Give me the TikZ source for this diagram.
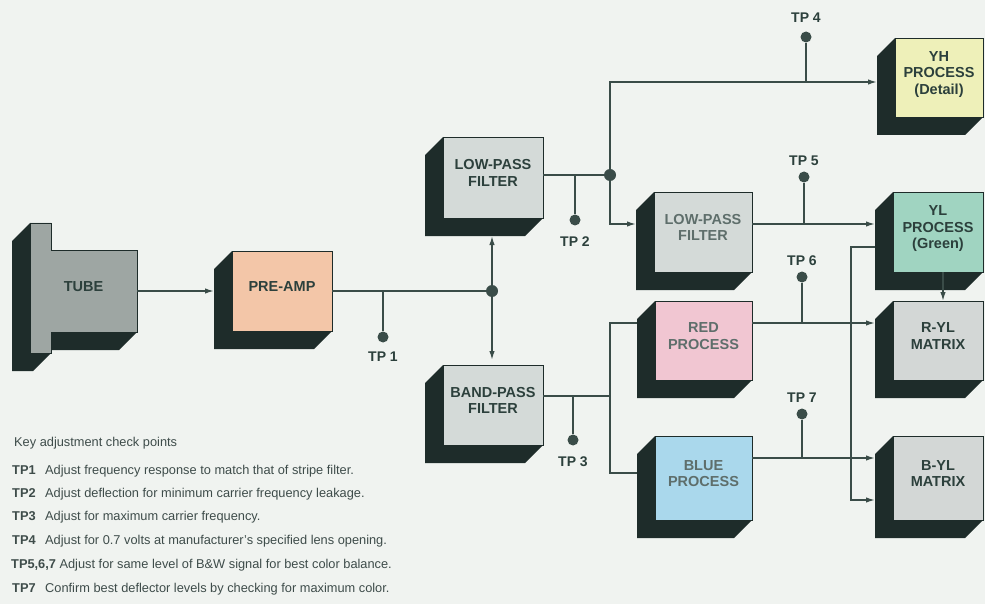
\documentclass[tikz,border=0pt]{standalone}
\usepackage{fontspec}
\setmainfont{Liberation Sans}
\usetikzlibrary{arrows.meta,calc}
\definecolor{bgc}{HTML}{F0F3F0}
\definecolor{shc}{HTML}{1E2C2A}
\definecolor{linec}{HTML}{3A4C48}
\definecolor{txtc}{HTML}{2C403C}
\definecolor{txtl}{HTML}{5E6E6B}
\definecolor{legc}{HTML}{3E4C4A}
\definecolor{tubec}{HTML}{9EA6A3}
\definecolor{preampc}{HTML}{F3C6A8}
\definecolor{filterc}{HTML}{D4DAD8}
\definecolor{yhc}{HTML}{EEF0B9}
\definecolor{ylc}{HTML}{A0D4C1}
\definecolor{redc}{HTML}{F1C6D2}
\definecolor{bluec}{HTML}{AAD8EC}
\definecolor{matc}{HTML}{D3D7D6}
\pgfdeclarelayer{bg}\pgfdeclarelayer{sh}\pgfsetlayers{bg,sh,main}
\newcommand\boxshadow[1]{\begin{pgfonlayer}{sh}\fill[shc] (#1.north west) -- ($(#1.north west)+(-18,18)$) -- ($(#1.south west)+(-18,18)$) -- ($(#1.south east)+(-18,18)$) -- (#1.south east) -- cycle;\end{pgfonlayer}}
\tikzset{
  face/.style={draw=shc, line width=0.8pt, inner sep=0pt, outer sep=0pt, align=center, text=txtc,
    font=\fontsize{14.5}{16.5}\selectfont\bfseries, text depth=9pt},
  conn/.style={draw=linec, line width=1.5pt},
  arr/.style={-{Latex[length=9pt,width=5.5pt]}},
  jdot/.style={circle, fill=linec, inner sep=0pt, minimum size=12pt},
  tpdot/.style={circle, fill=linec, inner sep=0pt, minimum size=11pt},
  tplab/.style={text=txtc, font=\fontsize{14}{16}\selectfont\bfseries, inner sep=0pt},
  leg/.style={anchor=base west, inner sep=0pt, text=legc, font=\fontsize{12.8}{15}\selectfont},
}
\begin{document}
\begin{tikzpicture}[x=1pt,y=-1pt]
\begin{pgfonlayer}{bg}\fill[bgc] (0,0) rectangle (985,604);\end{pgfonlayer}
\useasboundingbox (0,0) rectangle (985,604);

% TUBE (T-shaped)
\begin{pgfonlayer}{sh}
\fill[shc] (30,223) -- (12,241) -- (12,371) -- (33,371) -- (51,353) -- (51,350) -- (119,350) -- (137,332) -- (30,332) -- cycle;
\end{pgfonlayer}
\filldraw[fill=tubec, draw=shc, line width=0.8pt] (30,223) -- (51,223) -- (51,250) -- (137,250) -- (137,332) -- (51,332) -- (51,353) -- (30,353) -- cycle;
\node[face, draw=none, minimum width=107pt, minimum height=82pt] (tube) at (83.5,291) {TUBE};

% boxes
\node[face, fill=preampc, minimum width=100pt, minimum height=80pt] (preamp) at (282,291) {PRE-AMP};
\node[face, fill=filterc, minimum width=100pt, minimum height=81pt] (lpf1) at (493,177.5) {LOW-PASS\\FILTER};
\node[face, fill=filterc, minimum width=100pt, minimum height=80pt] (bpf) at (493,405) {BAND-PASS\\FILTER};
\node[face, fill=filterc, text=txtl, minimum width=98pt, minimum height=80pt] (lpf2) at (703,232) {LOW-PASS\\FILTER};
\node[face, fill=redc, text=txtl, minimum width=97pt, minimum height=79pt] (red) at (703.5,340.5) {RED\\PROCESS};
\node[face, fill=bluec, text=txtl, minimum width=97pt, minimum height=84pt] (blue) at (703.5,478) {BLUE\\PROCESS};
\node[face, fill=yhc, minimum width=88pt, minimum height=79pt] (yh) at (939,77.5) {YH\\PROCESS\\(Detail)};
\node[face, fill=ylc, minimum width=90pt, minimum height=80pt] (yl) at (938,232) {YL\\PROCESS\\(Green)};
\node[face, fill=matc, minimum width=90pt, minimum height=79pt] (ryl) at (938,340.5) {R-YL\\MATRIX};
\node[face, fill=matc, minimum width=90pt, minimum height=84pt] (byl) at (938,478) {B-YL\\MATRIX};
\foreach \n in {preamp,lpf1,bpf,lpf2,red,blue,yh,yl,ryl,byl}{\boxshadow{\n}}

% junctions and test points
\node[jdot] (j1) at (492,291) {};
\node[jdot] (j2) at (610,175) {};
\node[tpdot] (tp1) at (383,337) {};
\node[tplab] (tp1l) at (383,357) {TP 1};
\node[tpdot] (tp2) at (575,220) {};
\node[tplab] (tp2l) at (575,242) {TP 2};
\node[tpdot] (tp3) at (573,440) {};
\node[tplab] (tp3l) at (573,462) {TP 3};
\node[tpdot] (tp4) at (806,37) {};
\node[tplab] (tp4l) at (806,18) {TP 4};
\node[tpdot] (tp5) at (804,177) {};
\node[tplab] (tp5l) at (804,161) {TP 5};
\node[tpdot] (tp6) at (802,277) {};
\node[tplab] (tp6l) at (802,261) {TP 6};
\node[tpdot] (tp7) at (802,414) {};
\node[tplab] (tp7l) at (802,398) {TP 7};

\coordinate (lpf1sb) at ($(lpf1.south)+(0,18)$);
\coordinate (yhin) at ($(yh.west)+(-18,4.5)$);
\coordinate (lpf2in) at ($(lpf2.west)+(-18,-8)$);
\coordinate (ylin) at ($(yl.west)+(-18,-8)$);
\coordinate (redin) at ($(red.west)+(-18,-17.5)$);
\coordinate (bluein) at ($(blue.west)+(-18,-5)$);
\coordinate (bs) at (610,396);
\coordinate (rylin) at ($(ryl.west)+(-18,-17.5)$);
\coordinate (bylin) at ($(byl.west)+(-18,-20)$);
\coordinate (ylout) at ($(yl.west)+(-18,15)$);
\coordinate (bylin2) at ($(byl.west)+(-18,22)$);

% connectors
\draw[conn,arr] (tube.east) -- ($(preamp.west)+(-18,0)$);
\draw[conn] (preamp.east) -- (j1);
\draw[conn] (tp1) -- (tp1 |- j1);
\draw[conn,arr] (j1) -- (j1 |- lpf1sb);
\draw[conn,arr] (j1) -- ($(j1 |- bpf.north)+(0,-5)$);
\draw[conn] (lpf1.east |- j2) -- (j2);
\draw[conn] (tp2) -- (tp2 |- j2);
\draw[conn,arr] (j2) |- (yhin);
\draw[conn,arr] (j2) |- (lpf2in);
\draw[conn] (tp4) -- (tp4 |- yhin);
\draw[conn,arr] (lpf2.east |- ylin) -- (ylin);
\draw[conn] (tp5) -- (tp5 |- ylin);
\draw[conn] (bpf.east |- bs) -- (bs);
\draw[conn] (redin) -| (bs) |- (bluein);
\draw[conn] (tp3) -- (tp3 |- bs);
\draw[conn,arr] (red.east |- rylin) -- (rylin);
\draw[conn] (tp6) -- (tp6 |- rylin);
\draw[conn,arr] (blue.east |- bylin) -- (bylin);
\draw[conn] (tp7) -- (tp7 |- bylin);
\draw[conn,arr] (ylout) -- ++(-24,0) |- (bylin2);
\draw[conn,arr] ($(yl.south)+(5,0)$) -- ($(ryl.north)+(5,0)$);

% legend
\node[leg] (key) at (14,446) {Key adjustment check points};
\node[leg] (l1) at (12,474) {\makebox[33pt][l]{\bfseries TP1}Adjust frequency response to match that of stripe filter.};
\node[leg] (l2) at (12,497) {\makebox[33pt][l]{\bfseries TP2}Adjust deflection for minimum carrier frequency leakage.};
\node[leg] (l3) at (12,520) {\makebox[33pt][l]{\bfseries TP3}Adjust for maximum carrier frequency.};
\node[leg] (l4) at (12,544) {\makebox[33pt][l]{\bfseries TP4}Adjust for 0.7 volts at manufacturer's specified lens opening.};
\node[leg] (l5) at (11,568) {{\bfseries TP5,6,7} Adjust for same level of B\&W signal for best color balance.};
\node[leg] (l7) at (12,592) {\makebox[33pt][l]{\bfseries TP7}Confirm best deflector levels by checking for maximum color.};
\end{tikzpicture}
\end{document}
